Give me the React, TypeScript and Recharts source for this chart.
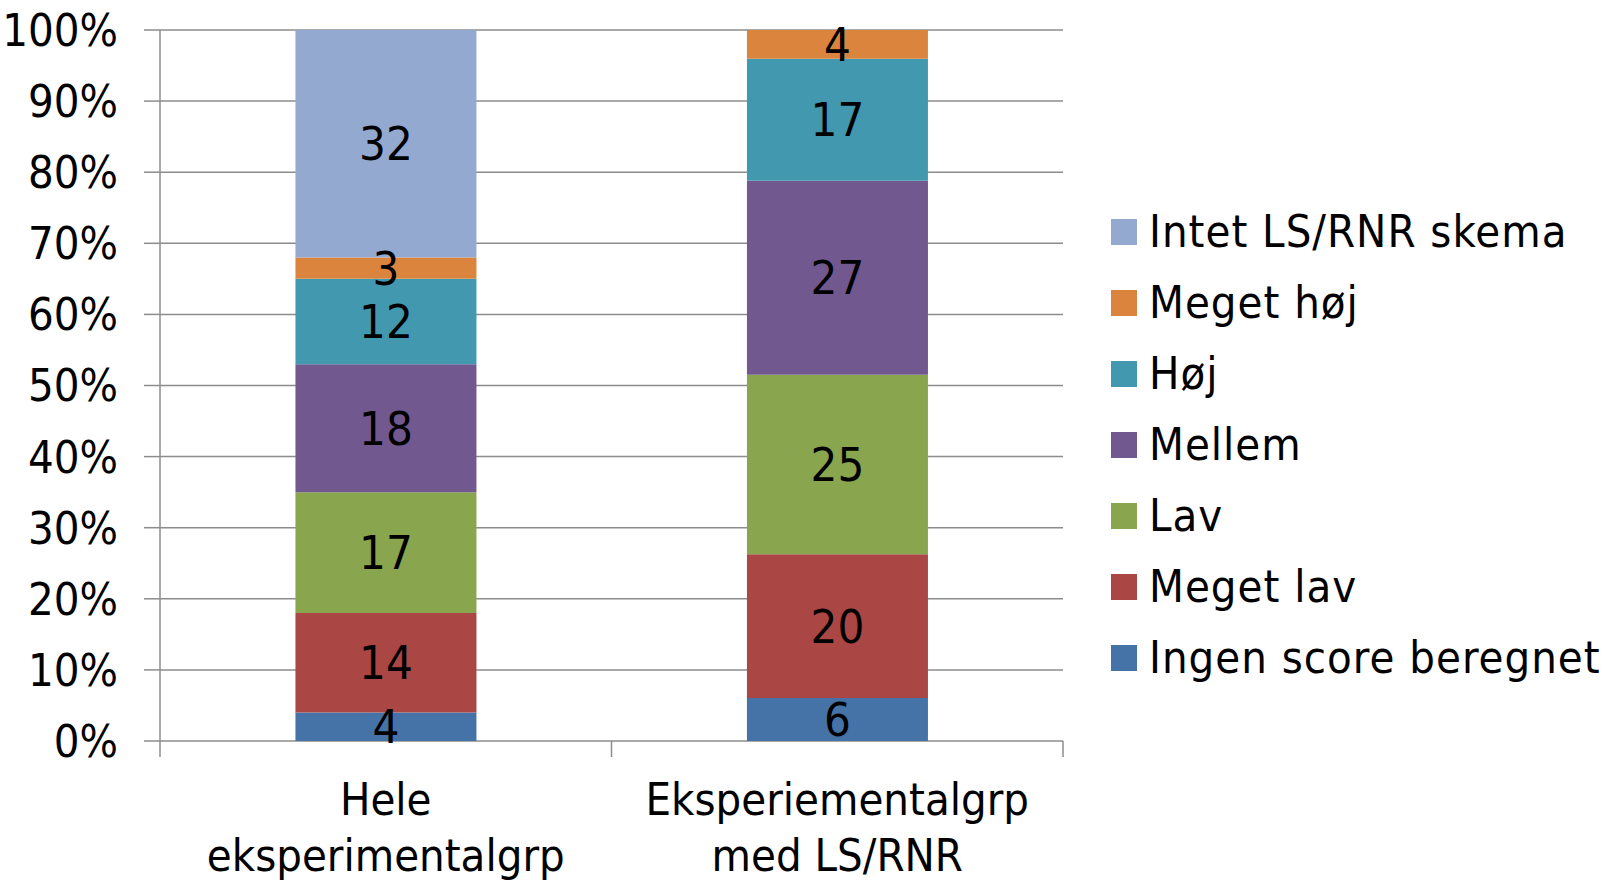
import React from "react";
import {
  Bar,
  BarChart,
  CartesianGrid,
  LabelList,
  XAxis,
  YAxis,
} from "recharts";

const categories = ["Hele\neksperimentalgrp", "Eksperiementalgrp\nmed LS/RNR"];
const ingenScore = [4, 6];
const megetLav = [14, 20];
const lav = [17, 25];
const mellem = [18, 27];
const hoj = [12, 17];
const megetHoj = [3, 4];
const intetSkema = [32, 0];

const yTicks = [0, 0.1, 0.2, 0.3, 0.4, 0.5, 0.6, 0.7, 0.8, 0.9, 1];
const edgeTicks = [0, 0.5, 1];

// bottom to top
const series = [
  { key: "ingen", name: "Ingen score beregnet", values: ingenScore, color: "#4572A7" },
  { key: "megetLav", name: "Meget lav", values: megetLav, color: "#AA4643" },
  { key: "lav", name: "Lav", values: lav, color: "#89A54E" },
  { key: "mellem", name: "Mellem", values: mellem, color: "#71588F" },
  { key: "hoj", name: "Høj", values: hoj, color: "#4198AF" },
  { key: "megetHoj", name: "Meget høj", values: megetHoj, color: "#DB843D" },
  { key: "intet", name: "Intet LS/RNR skema", values: intetSkema, color: "#93A9CF" },
];

const data = categories.map((c, i) => {
  const row: Record<string, string | number> = { name: c };
  series.forEach((s) => (row[s.key] = s.values[i]));
  return row;
});

const FONT = "'DejaVu Sans Condensed', 'DejaVu Sans', sans-serif";
const GRID = "#8C8C8C";

function CategoryTick({ x, y, payload }: any) {
  const lines = String(payload.value).split("\n");
  return (
    <text x={x} y={y} textAnchor="middle" fontSize={45} fontFamily={FONT} fill="#000">
      {lines.map((l, i) => (
        <tspan key={i} x={x} dy={i === 0 ? 74 : 56}>
          {l}
        </tspan>
      ))}
    </text>
  );
}

// tick marks between the categories
function EdgeTick({ x, y }: any) {
  return <line x1={x} x2={x} y1={y - 1} y2={y + 15} stroke={GRID} strokeWidth={1.5} />;
}

function LegendBox() {
  const items = [...series].reverse();
  return (
    <div
      style={{
        position: "absolute",
        left: 1111,
        top: 196,
        fontFamily: FONT,
        fontSize: 45,
        letterSpacing: 1,
      }}
    >
      {items.map((s) => (
        <div key={s.key} style={{ display: "flex", alignItems: "center", height: 71 }}>
          <span style={{ width: 26, height: 26, background: s.color, marginRight: 12 }} />
          <span style={{ lineHeight: 1, whiteSpace: "nowrap" }}>{s.name}</span>
        </div>
      ))}
    </div>
  );
}

export default function App() {
  return (
    <div style={{ position: "absolute", left: 0, top: 0, width: 1613, height: 882, background: "#fff" }}>
      <BarChart
        width={1613}
        height={882}
        data={data}
        stackOffset="expand"
        barCategoryGap="30%"
        margin={{ top: 30, right: 550, left: 0, bottom: 0 }}
      >
        <CartesianGrid vertical={false} stroke={GRID} strokeWidth={1.5} />
        <XAxis
          dataKey="name"
          tick={<CategoryTick />}
          tickLine={false}
          tickSize={0}
          tickMargin={0}
          axisLine={false}
          height={1}
          interval={0}
        />
        <XAxis
          xAxisId="edges"
          type="number"
          scale="linear"
          domain={[0, 1]}
          allowDataOverflow
          ticks={edgeTicks}
          interval={0}
          minTickGap={0}
          tick={<EdgeTick />}
          tickSize={0}
          tickMargin={0}
          tickLine={false}
          axisLine={false}
          height={140}
        />
        <YAxis
          domain={[0, 1]}
          ticks={yTicks}
          tickFormatter={(v: number) => `${Math.round(v * 100)}%`}
          width={160}
          tickSize={16}
          tickMargin={26}
          tickLine={{ stroke: GRID, strokeWidth: 1.5 }}
          axisLine={{ stroke: GRID, strokeWidth: 1.5 }}
          tick={{ fontSize: 45, fontFamily: FONT, fill: "#000" }}
          interval={0}
        />
        {series.map((s) => (
          <Bar
            key={s.key}
            dataKey={s.key}
            name={s.name}
            stackId="a"
            fill={s.color}
            isAnimationActive={false}
          >
            <LabelList
              dataKey={s.key}
              position="center"
              formatter={(v: any) => (v ? v : "")}
              style={{ fontSize: 47, fontFamily: FONT, fill: "#000" }}
            />
          </Bar>
        ))}
      </BarChart>
      <LegendBox />
    </div>
  );
}
